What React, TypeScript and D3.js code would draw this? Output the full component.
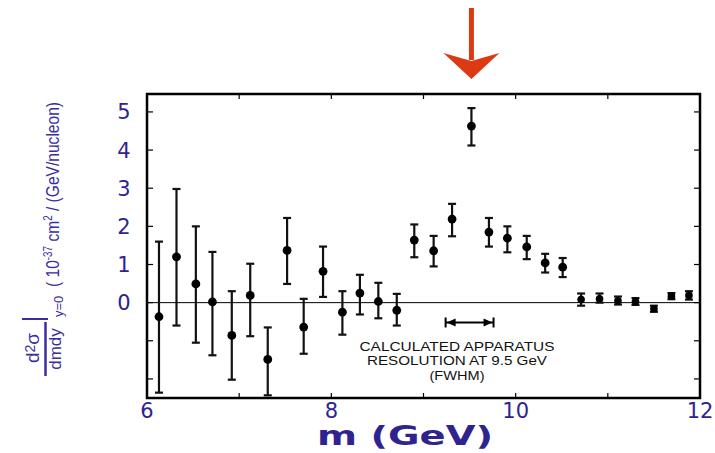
import React from 'react';
import * as d3 from 'd3';

// values
const massGeV = [6.13, 6.32, 6.53, 6.71, 6.92, 7.12, 7.31, 7.52, 7.7, 7.91, 8.12, 8.31, 8.51, 8.71, 8.9,
    9.11, 9.31, 9.52, 9.71, 9.91, 10.12, 10.32, 10.51, 10.71, 10.91, 11.11, 11.3, 11.5, 11.69, 11.88];
const crossSection = [-0.37, 1.2, 0.49, 0.02, -0.86, 0.19, -1.49, 1.37, -0.64, 0.82, -0.25, 0.25, 0.03, -0.2, 1.64,
    1.36, 2.19, 4.63, 1.85, 1.69, 1.46, 1.04, 0.93, 0.08, 0.1, 0.05, 0.03, -0.16, 0.17, 0.19];
const errorTop = [1.6, 2.98, 2.0, 1.33, 0.3, 1.02, -0.65, 2.22, 0.1, 1.47, 0.3, 0.73, 0.52, 0.23, 2.05,
    1.75, 2.59, 5.1, 2.22, 2.0, 1.75, 1.28, 1.17, 0.24, 0.24, 0.16, 0.12, -0.08, 0.25, 0.3];
const errorBottom = [-2.36, -0.6, -1.05, -1.38, -2.02, -0.88, -2.43, 0.49, -1.34, 0.15, -0.84, -0.31, -0.41, -0.6, 1.19,
    0.95, 1.74, 4.12, 1.47, 1.32, 1.14, 0.79, 0.67, -0.08, 0.0, -0.05, -0.06, -0.24, 0.09, 0.08];

const xTicks = [6, 7, 8, 9, 10, 11, 12];
const xTickLabels = [6, 8, 10, 12];
const yTicks = [-2, -1, 0, 1, 2, 3, 4, 5];
const yTickLabels = [0, 1, 2, 3, 4, 5];
const resolutionRange = [9.24, 9.76];
const resolutionLevel = -0.52;
const peakMass = 9.52;
const noteLines = ['CALCULATED APPARATUS', 'RESOLUTION AT 9.5 GeV', '(FWHM)'];
const noteWidths = [195, 180, 55];

const W = 715;
const H = 453;
const margin = { top: 94, right: 15, bottom: 55, left: 147 };
const axisColor = '#2f2390';
const titleColor = '#3a2ea0';

const App: React.FC = () => {
    const x = d3.scaleLinear().domain([6, 12]).range([margin.left, W - margin.right]);
    const y = d3.scaleLinear().domain([-2.5, 5.47]).range([H - margin.bottom, margin.top]);
    const [x0, x1] = x.range();
    const [y0, y1] = [y(5.47), y(-2.5)];

    const points = massGeV.map((m, i) => ({
        m, v: crossSection[i], hi: errorTop[i], lo: errorBottom[i],
    }));

    const arrowX = x(peakMass);
    const font = "'DejaVu Sans', sans-serif";
    const rl = y(resolutionLevel);
    const ra = x(resolutionRange[0]);
    const rb = x(resolutionRange[1]);

    return (
        <svg width={W} height={H} style={{ position: 'absolute', left: 0, top: 0, background: '#fff' }}>
            {/* arrow marking the peak */}
            <g fill="#db3a12">
                <rect x={arrowX - 2.5} y={8} width={5} height={52} />
                <polygon points={`${arrowX - 28},53 ${arrowX},61 ${arrowX + 28},53 ${arrowX},79`} />
            </g>

            {/* zero line */}
            <line x1={x0} x2={x1} y1={y(0)} y2={y(0)} stroke="#000" strokeWidth={1} />

            {/* ticks */}
            <g stroke="#000" strokeWidth={1.2}>
                {xTicks.slice(1, -1).map(t => (
                    <g key={'xt' + t}>
                        <line x1={x(t)} x2={x(t)} y1={y1} y2={y1 - 5} />
                        <line x1={x(t)} x2={x(t)} y1={y0} y2={y0 + 5} />
                    </g>
                ))}
                {yTicks.map(t => (
                    <g key={'yt' + t}>
                        <line x1={x0} x2={x0 + 6} y1={y(t)} y2={y(t)} />
                        <line x1={x1} x2={x1 - 6} y1={y(t)} y2={y(t)} />
                    </g>
                ))}
            </g>

            {/* frame */}
            <rect x={x0} y={y0} width={x1 - x0} height={y1 - y0} fill="none" stroke="#000" strokeWidth={2.5} />

            {/* error bars and points */}
            <g stroke="#111" strokeWidth={2.2}>
                {points.map((p, i) => (
                    <g key={i}>
                        <line x1={x(p.m)} x2={x(p.m)} y1={y(p.hi)} y2={y(p.lo)} />
                        <line x1={x(p.m) - 4} x2={x(p.m) + 4} y1={y(p.hi)} y2={y(p.hi)} />
                        <line x1={x(p.m) - 4} x2={x(p.m) + 4} y1={y(p.lo)} y2={y(p.lo)} />
                        <circle cx={x(p.m)} cy={y(p.v)} r={p.m > 10.6 ? 3.8 : 4.4} fill="#000" stroke="none" />
                    </g>
                ))}
            </g>

            {/* resolution bar */}
            <g stroke="#000" strokeWidth={2} fill="#000">
                <line x1={ra} x2={rb} y1={rl} y2={rl} />
                <line x1={ra} x2={ra} y1={rl - 5} y2={rl + 5} />
                <line x1={rb} x2={rb} y1={rl - 5} y2={rl + 5} />
                <polygon stroke="none" points={`${ra + 1},${rl} ${ra + 10},${rl - 4} ${ra + 10},${rl + 4}`} />
                <polygon stroke="none" points={`${rb - 1},${rl} ${rb - 10},${rl - 4} ${rb - 10},${rl + 4}`} />
            </g>
            <g fontFamily="'Liberation Sans', Arial, sans-serif" fontSize={13.5} fill="#111" textAnchor="middle">
                {noteLines.map((t, i) => (
                    <text key={t} x={457} y={351 + i * 14.3} textLength={noteWidths[i]}
                        lengthAdjust="spacingAndGlyphs">{t}</text>
                ))}
            </g>

            {/* tick labels */}
            <g fontFamily={font} fontSize={21} fill={axisColor} textAnchor="middle">
                {xTickLabels.map(t => (
                    <text key={'xl' + t} x={x(t)} y={418}>{t}</text>
                ))}
                {yTickLabels.map(t => (
                    <text key={'yl' + t} x={124} y={y(t) + 7.5}>{t}</text>
                ))}
            </g>

            {/* x title */}
            <text x={405} y={445} fontFamily={font} fontWeight="bold" fontSize={26} fill={axisColor}
                textAnchor="middle" textLength={176} lengthAdjust="spacingAndGlyphs">m (GeV)</text>

            {/* y title, rotated */}
            <g transform="rotate(-90)" fill={titleColor} fontFamily="'Liberation Sans', Arial, sans-serif">
                <text x={-287} y={59} fontSize={19} textLength={185} lengthAdjust="spacingAndGlyphs">
                    ( 10<tspan fontSize={12} dy={-7}>-37</tspan><tspan dy={7}> cm</tspan>
                    <tspan fontSize={12} dy={-7}>2</tspan><tspan dy={7}> / (GeV/nucleon)</tspan>
                </text>
                <text x={-348} y={39} fontSize={19} textAnchor="middle">d<tspan fontSize={14} dy={-4}>2</tspan><tspan dy={4}>σ</tspan></text>
                <line x1={-376} x2={-322} y1={45.5} y2={45.5} stroke={titleColor} strokeWidth={2.5} />
                <text x={-349} y={61} fontSize={17} textAnchor="middle">dmdy</text>
                <line x1={-319} x2={-319} y1={22} y2={48} stroke={titleColor} strokeWidth={2} />
                <text x={-317} y={63} fontSize={13}>y=0</text>
            </g>
        </svg>
    );
};

export default App;
